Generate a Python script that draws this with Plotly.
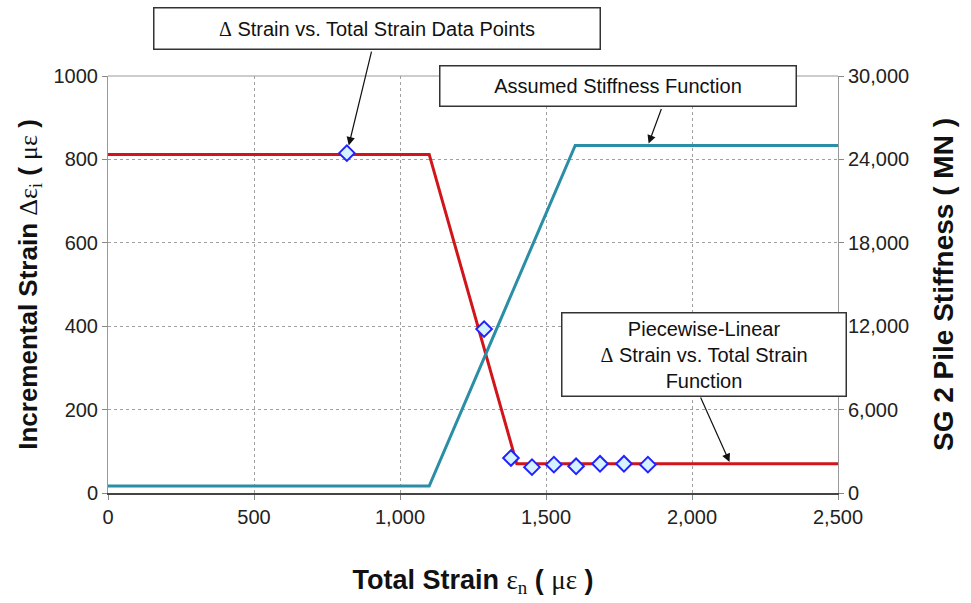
import plotly.graph_objects as go

# Data
point_strain = [818, 1288, 1380, 1452, 1527, 1603, 1685, 1767, 1849]
point_dstrain = [815, 393, 84, 62, 68, 64, 70, 70, 68]

pw_strain = [0, 1100, 1400, 2500]
pw_dstrain = [812, 812, 70, 70]

stiff_strain = [0, 1100, 1600, 2500]
stiff_mn = [500, 500, 25000, 25000]

x_ticks = [0, 500, 1000, 1500, 2000, 2500]
y_ticks = [0, 200, 400, 600, 800, 1000]
y2_ticks = [0, 6000, 12000, 18000, 24000, 30000]

FONT = "Liberation Sans, Arial, sans-serif"
GREEK = "font-weight:normal;font-family:Liberation Serif"


def greek(s):
    return "<span style='" + GREEK + "'>" + s + "</span>"


fig = go.Figure()
fig.add_trace(go.Scatter(x=pw_strain, y=pw_dstrain, mode="lines",
                         line=dict(color="#d0161b", width=3), showlegend=False))
fig.add_trace(go.Scatter(x=stiff_strain, y=stiff_mn, mode="lines", yaxis="y2",
                         line=dict(color="#2a8ea6", width=3), showlegend=False))
fig.add_trace(go.Scatter(x=point_strain, y=point_dstrain, mode="markers",
                         marker=dict(symbol="diamond", size=12, color="#d4f2ff",
                                     line=dict(color="#2222ff", width=2)),
                         showlegend=False))

TICKFONT = dict(family=FONT, size=20, color="#222")
axis_common = dict(showgrid=True, gridcolor="#a0a0a0", griddash="dot", gridwidth=1,
                   tickfont=TICKFONT,
                   zeroline=False, ticks="outside", ticklen=5, tickcolor="#888")

fig.update_layout(
    width=971, height=603,
    margin=dict(l=108, r=133, t=76, b=110),
    paper_bgcolor="white", plot_bgcolor="white",
    font=dict(family=FONT, color="#111"),
    xaxis=dict(range=[0, 2500], tickvals=x_ticks, tickformat=",d",
               showline=True, linecolor="#444", linewidth=1.5, mirror=False,
               title=dict(text="<b>Total Strain " + greek("ε<sub>n</sub>") + " ( " + greek("με") + " )</b>",
                          font=dict(family=FONT, size=27, color="#111"), standoff=43),
               **axis_common),
    yaxis=dict(range=[0, 1000], tickvals=y_ticks,
               showline=True, linecolor="#999", linewidth=1, mirror=False,
               title=dict(text="<b>Incremental Strain " + greek("Δε<sub>i</sub>") + " ( " + greek("με") + " )</b>",
                          font=dict(family=FONT, size=26, color="#111"), standoff=8),
               **axis_common),
    yaxis2=dict(range=[0, 30000], tickvals=y2_ticks, tickformat=",d",
                overlaying="y", side="right", showgrid=False,
                showline=True, linecolor="#999", linewidth=1,
                ticks="outside", ticklen=5, tickcolor="#888", zeroline=False,
                tickfont=TICKFONT,
                title=dict(text="<b>SG 2 Pile Stiffness ( MN )</b>",
                           font=dict(family=FONT, size=28, color="#111"), standoff=25)),
)

# top border of plot area
fig.add_shape(type="line", xref="paper", yref="paper", x0=0, x1=1, y0=1, y1=1,
              line=dict(color="#999", width=1))

box = dict(xref="paper", yref="paper", showarrow=False, bgcolor="white",
           bordercolor="#333", borderwidth=1.5, borderpad=1,
           xanchor="center", yanchor="middle",
           font=dict(family=FONT, size=20, color="#111"))
fig.add_annotation(x=0.368, y=1.113, width=443, height=38,
                   text=greek("Δ") + " Strain vs. Total Strain Data Points", **box)
fig.add_annotation(x=0.698, y=0.975, width=353, height=37,
                   text="Assumed Stiffness Function", **box)
fig.add_annotation(x=0.817, y=0.333, width=281, height=80,
                   text="Piecewise-Linear<br>" + greek("Δ") + " Strain vs. Total Strain<br>Function", **box)

arrow = dict(text="", showarrow=True, arrowhead=2, arrowsize=1.4, arrowwidth=1.2,
             arrowcolor="#111", axref="pixel", ayref="pixel")
fig.add_annotation(x=818, y=815, xref="x", yref="y", ax=25, ay=-103, standoff=8, **arrow)
fig.add_annotation(x=1849, y=25000, xref="x", yref="y2", ax=14, ay=-38, standoff=2, **arrow)
fig.add_annotation(x=2130, y=72, xref="x", yref="y", ax=-30, ay=-67, standoff=1, **arrow)

fig.write_html("out.html")
